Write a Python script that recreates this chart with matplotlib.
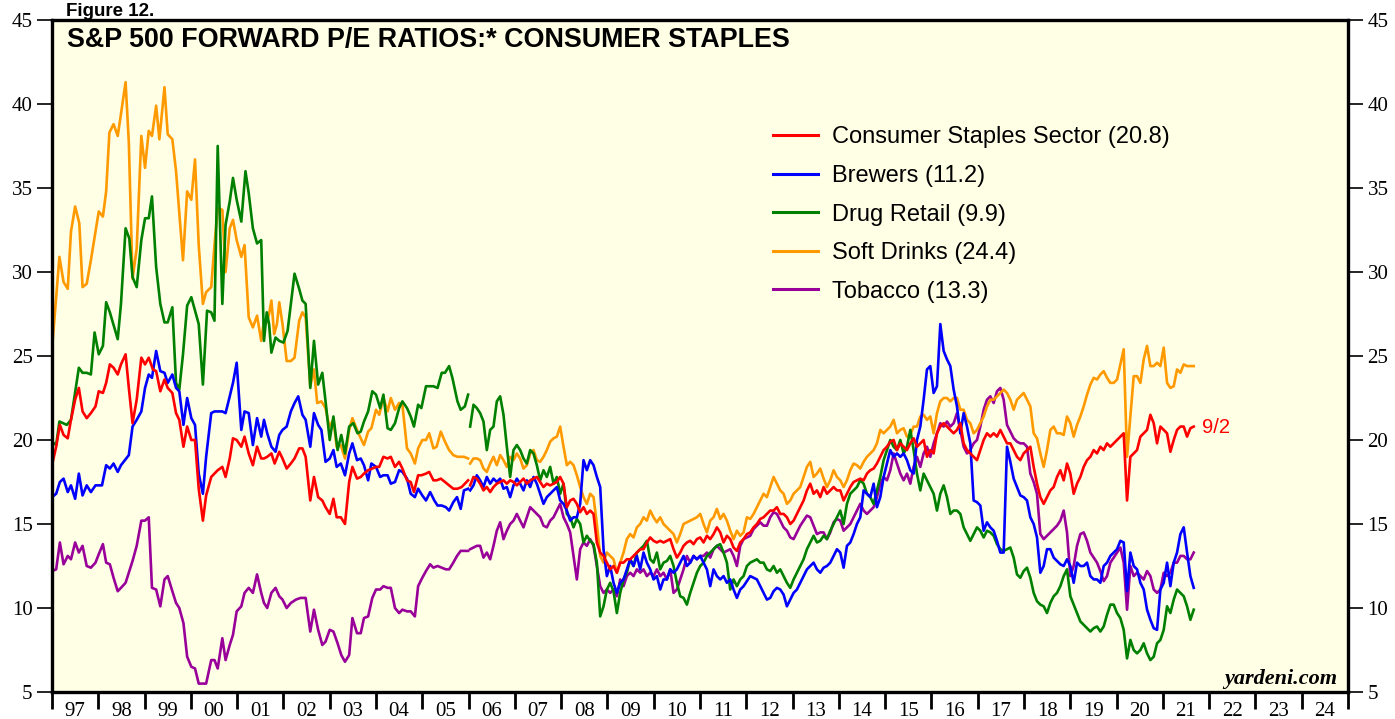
import matplotlib.pyplot as plt
import numpy as np

plt.rcParams['font.family'] = 'Liberation Serif'

# ---- monthly data 1997-2005 (decimal year, forward P/E) ----
staples_m = [
    (1997.00, 18.5), (1997.09, 19.6), (1997.17, 20.9), (1997.25, 20.3), (1997.34, 20.1),
    (1997.41, 21.2), (1997.50, 22.4), (1997.58, 23.1), (1997.66, 21.7), (1997.75, 21.3),
    (1997.84, 21.6), (1997.94, 22.0), (1998.01, 22.9), (1998.10, 22.8), (1998.17, 23.4),
    (1998.25, 24.5), (1998.33, 24.3), (1998.42, 23.9), (1998.49, 24.5), (1998.59, 25.1),
    (1998.66, 23.1), (1998.74, 21.0), (1998.83, 22.4), (1998.93, 24.9), (1999.01, 24.5),
    (1999.09, 24.9), (1999.18, 24.2), (1999.25, 24.1), (1999.34, 22.9), (1999.43, 23.6),
    (1999.50, 23.1), (1999.60, 22.8), (1999.68, 21.6), (1999.75, 21.2), (1999.84, 19.6),
    (1999.92, 20.8), (2000.01, 20.0), (2000.09, 20.0), (2000.17, 17.1), (2000.26, 15.2),
    (2000.33, 16.7), (2000.44, 17.8), (2000.51, 18.0), (2000.58, 18.2), (2000.68, 18.4),
    (2000.75, 17.8), (2000.84, 18.9), (2000.91, 20.1), (2000.99, 20.0), (2001.09, 19.6),
    (2001.16, 20.2), (2001.25, 19.2), (2001.34, 18.5), (2001.43, 19.6), (2001.52, 18.9),
    (2001.58, 18.9), (2001.65, 19.0), (2001.74, 19.2), (2001.81, 18.6), (2001.91, 19.3),
    (2001.98, 18.9), (2002.07, 18.3), (2002.16, 18.6), (2002.24, 18.9), (2002.34, 19.5),
    (2002.41, 19.5), (2002.48, 19.0), (2002.58, 16.4), (2002.66, 17.8), (2002.75, 16.6),
    (2002.84, 16.4), (2002.91, 16.0), (2003.00, 15.6), (2003.08, 16.5), (2003.15, 15.4),
    (2003.24, 15.4), (2003.33, 15.0), (2003.42, 17.5), (2003.49, 18.4), (2003.59, 17.7),
    (2003.67, 17.8), (2003.74, 18.0), (2003.83, 18.2), (2003.92, 18.3), (2004.00, 18.4),
    (2004.07, 18.4), (2004.16, 19.0), (2004.25, 18.9), (2004.32, 19.0), (2004.41, 18.4),
    (2004.50, 18.7), (2004.57, 18.3), (2004.67, 17.6), (2004.75, 17.5), (2004.82, 16.9),
    (2004.91, 17.9), (2004.98, 17.9), (2005.08, 18.0), (2005.15, 18.1), (2005.24, 17.6),
    (2005.31, 17.6), (2005.40, 17.7), (2005.49, 17.5), (2005.58, 17.3), (2005.67, 17.1),
    (2005.76, 17.1), (2005.85, 17.2), (2005.92, 17.4), (2005.99, 17.6),
]

brewers_m = [
    (1997.00, 16.6), (1997.09, 16.8), (1997.17, 17.5), (1997.25, 17.7), (1997.34, 16.9),
    (1997.41, 17.3), (1997.50, 16.5), (1997.58, 18.0), (1997.66, 16.7), (1997.75, 17.3),
    (1997.84, 16.9), (1997.94, 17.3), (1998.08, 17.3), (1998.17, 18.5), (1998.25, 18.3),
    (1998.33, 18.6), (1998.42, 18.1), (1998.49, 18.5), (1998.66, 19.1), (1998.74, 20.8),
    (1998.83, 21.2), (1998.93, 21.7), (1999.01, 23.1), (1999.09, 23.9), (1999.16, 23.7),
    (1999.25, 25.3), (1999.34, 24.1), (1999.43, 24.0), (1999.50, 23.4), (1999.60, 23.9),
    (1999.68, 23.1), (1999.75, 22.9), (1999.84, 20.9), (1999.92, 22.5), (2000.01, 21.3),
    (2000.09, 20.9), (2000.17, 18.0), (2000.26, 16.8), (2000.33, 19.0), (2000.44, 21.6),
    (2000.51, 21.7), (2000.58, 21.7), (2000.68, 21.7), (2000.75, 21.6), (2000.84, 22.6),
    (2000.91, 23.4), (2000.99, 24.6), (2001.09, 20.6), (2001.16, 21.7), (2001.25, 21.6),
    (2001.34, 19.7), (2001.43, 21.3), (2001.52, 20.2),
    (2001.58, 21.2), (2001.65, 20.4), (2001.74, 19.6), (2001.83, 19.3), (2001.91, 20.3),
    (2001.98, 20.6), (2002.07, 20.8), (2002.16, 21.7), (2002.24, 22.2), (2002.32, 22.6),
    (2002.41, 21.5), (2002.48, 21.2), (2002.58, 19.6), (2002.66, 21.6), (2002.75, 20.9),
    (2002.82, 20.6), (2002.91, 18.7), (2003.00, 18.9), (2003.08, 19.4), (2003.15, 18.4),
    (2003.24, 18.6), (2003.33, 17.9), (2003.42, 19.2), (2003.49, 19.8), (2003.59, 18.8),
    (2003.67, 18.9), (2003.74, 18.5), (2003.83, 17.6), (2003.90, 18.6), (2004.00, 18.4),
    (2004.09, 17.8), (2004.16, 17.9), (2004.25, 17.9), (2004.32, 17.4), (2004.41, 17.5),
    (2004.50, 18.2), (2004.57, 18.1), (2004.67, 17.7), (2004.75, 16.8), (2004.84, 16.6),
    (2004.91, 17.1), (2005.00, 16.7), (2005.08, 16.4), (2005.17, 16.9), (2005.26, 16.4),
    (2005.33, 16.1), (2005.42, 16.1), (2005.51, 16.0), (2005.58, 15.8), (2005.67, 16.3),
    (2005.75, 16.6), (2005.83, 15.9), (2005.90, 17.0), (2005.99, 17.1),
]

drug_m = [
    (1997.00, 19.9), (1997.09, 19.7), (1997.16, 21.1), (1997.32, 20.9), (1997.41, 21.2),
    (1997.58, 24.3), (1997.66, 24.0), (1997.75, 24.0), (1997.84, 23.9), (1997.92, 26.4),
    (1998.01, 25.1), (1998.10, 25.6), (1998.17, 28.2), (1998.25, 27.6), (1998.42, 26.0),
    (1998.49, 28.1), (1998.59, 32.6), (1998.67, 32.0), (1998.74, 29.7), (1998.83, 29.1),
    (1998.93, 31.9), (1999.01, 33.2), (1999.09, 33.2), (1999.16, 34.5), (1999.25, 30.3),
    (1999.34, 28.1), (1999.43, 27.0), (1999.50, 27.0), (1999.60, 27.9), (1999.68, 23.4),
    (1999.75, 23.0), (1999.83, 25.1), (1999.92, 28.0), (2000.01, 28.5), (2000.17, 26.9),
    (2000.26, 23.3), (2000.35, 27.7), (2000.44, 27.6), (2000.51, 27.1), (2000.58, 37.5),
    (2000.68, 28.1), (2000.75, 32.8), (2000.84, 34.2), (2000.91, 35.6), (2000.99, 34.3),
    (2001.09, 33.0), (2001.18, 36.0), (2001.25, 34.7), (2001.34, 32.6), (2001.43, 31.7),
    (2001.52, 31.9),
    (2001.58, 25.9), (2001.64, 27.6), (2001.69, 26.9), (2001.74, 25.2), (2001.83, 26.1),
    (2001.91, 25.9), (2002.00, 25.8), (2002.09, 26.5), (2002.24, 29.9), (2002.34, 29.0),
    (2002.41, 28.3), (2002.48, 28.1), (2002.58, 23.1), (2002.66, 25.9), (2002.75, 23.3),
    (2002.84, 24.0), (2002.91, 22.3), (2003.00, 20.0), (2003.08, 21.4), (2003.17, 19.4),
    (2003.25, 20.3), (2003.33, 19.2), (2003.42, 20.8), (2003.51, 21.0), (2003.60, 20.4),
    (2003.67, 20.5), (2003.74, 21.1), (2003.83, 21.7), (2003.92, 22.9), (2004.00, 22.7),
    (2004.09, 21.9), (2004.16, 22.7), (2004.25, 20.7), (2004.32, 20.6), (2004.41, 21.0),
    (2004.50, 21.9), (2004.57, 22.3), (2004.67, 21.9), (2004.75, 21.4), (2004.82, 20.8),
    (2004.91, 22.1), (2004.98, 21.9), (2005.08, 23.2), (2005.15, 23.2), (2005.24, 23.2),
    (2005.33, 23.1), (2005.42, 24.0), (2005.49, 24.0), (2005.58, 24.4), (2005.65, 23.7),
    (2005.76, 22.3), (2005.83, 21.8), (2005.92, 22.0), (2005.99, 22.7),
]

soft_m = [
    (1997.00, 25.4), (1997.16, 30.9), (1997.25, 29.4), (1997.34, 29.0), (1997.41, 32.4),
    (1997.50, 33.9), (1997.59, 32.9), (1997.66, 29.1), (1997.75, 29.3), (1997.84, 30.7),
    (1998.01, 33.6), (1998.10, 33.3), (1998.17, 34.8), (1998.24, 38.3), (1998.33, 38.8),
    (1998.42, 38.1), (1998.49, 39.4), (1998.59, 41.3), (1998.66, 37.7), (1998.74, 29.6),
    (1998.83, 31.4), (1998.93, 38.1), (1999.01, 36.2), (1999.09, 38.4), (1999.16, 38.1),
    (1999.25, 39.9), (1999.32, 37.9), (1999.43, 41.0), (1999.50, 38.2), (1999.60, 37.9),
    (1999.68, 36.0), (1999.83, 30.7), (1999.92, 34.8), (2000.01, 34.3), (2000.09, 36.7),
    (2000.17, 31.6), (2000.26, 28.1), (2000.33, 28.8), (2000.44, 29.1), (2000.51, 31.6),
    (2000.58, 33.8), (2000.68, 33.7), (2000.75, 30.0), (2000.84, 32.6), (2000.91, 33.1),
    (2000.99, 31.9), (2001.09, 30.9), (2001.16, 31.6), (2001.25, 27.3), (2001.34, 26.7),
    (2001.43, 27.4), (2001.52, 25.9),
    (2001.58, 27.1), (2001.64, 27.0), (2001.69, 27.5), (2001.74, 28.3), (2001.80, 26.3),
    (2001.86, 26.9), (2001.91, 28.2), (2001.98, 26.9), (2002.07, 24.7), (2002.16, 24.7),
    (2002.24, 24.9), (2002.34, 27.1), (2002.41, 27.6), (2002.48, 27.3), (2002.58, 23.2),
    (2002.66, 24.2), (2002.73, 22.2), (2002.82, 22.3), (2002.91, 21.9), (2002.99, 20.8),
    (2003.08, 21.2), (2003.15, 19.6), (2003.24, 19.7), (2003.33, 18.9), (2003.42, 20.6),
    (2003.49, 21.3), (2003.59, 20.6), (2003.67, 20.1), (2003.74, 19.7), (2003.83, 20.5),
    (2003.90, 20.7), (2004.00, 21.8), (2004.07, 21.5), (2004.16, 22.5), (2004.25, 21.7),
    (2004.32, 22.5), (2004.41, 21.8), (2004.50, 22.2), (2004.57, 22.1), (2004.67, 19.5),
    (2004.75, 19.2), (2004.84, 18.6), (2004.91, 19.5), (2005.00, 20.0), (2005.08, 20.0),
    (2005.15, 20.4), (2005.24, 19.5), (2005.31, 19.6), (2005.40, 20.5), (2005.49, 19.9),
    (2005.58, 19.4), (2005.67, 19.1), (2005.76, 19.0), (2005.90, 19.0), (2005.99, 18.9),
]

tobacco_m = [
    (1997.00, 12.2), (1997.09, 12.3), (1997.17, 13.9), (1997.25, 12.6), (1997.34, 13.1),
    (1997.41, 12.9), (1997.50, 13.9), (1997.58, 13.3), (1997.66, 13.7), (1997.75, 12.5),
    (1997.84, 12.4), (1997.94, 12.7), (1998.01, 13.2), (1998.10, 13.8), (1998.17, 12.7),
    (1998.25, 12.6), (1998.33, 11.8), (1998.42, 11.0), (1998.49, 11.2), (1998.59, 11.5),
    (1998.74, 12.8), (1998.83, 13.7), (1998.93, 15.2), (1999.01, 15.2), (1999.09, 15.4),
    (1999.16, 11.2), (1999.25, 11.1), (1999.34, 10.1), (1999.43, 11.7), (1999.50, 11.9),
    (1999.60, 11.0), (1999.68, 10.3), (1999.75, 10.0), (1999.84, 9.1), (1999.92, 7.1),
    (2000.01, 6.5), (2000.09, 6.4), (2000.17, 5.5), (2000.33, 5.5), (2000.44, 6.9),
    (2000.51, 6.9), (2000.58, 6.4), (2000.68, 8.2), (2000.75, 6.9), (2000.84, 7.8),
    (2000.91, 8.4), (2000.99, 9.8), (2001.09, 10.1), (2001.16, 10.9), (2001.25, 11.2),
    (2001.34, 10.9), (2001.43, 12.0), (2001.52, 10.9),
    (2001.58, 10.3), (2001.65, 10.0), (2001.74, 10.9), (2001.83, 11.2), (2001.91, 10.7),
    (2001.98, 10.5), (2002.07, 10.0), (2002.16, 10.3), (2002.27, 10.5), (2002.37, 10.6),
    (2002.48, 10.6), (2002.58, 8.6), (2002.66, 9.9), (2002.75, 8.7), (2002.84, 7.8),
    (2002.91, 8.0), (2003.00, 8.7), (2003.08, 8.6), (2003.17, 7.9), (2003.25, 7.2),
    (2003.33, 6.8), (2003.42, 7.2), (2003.49, 9.4), (2003.59, 8.5), (2003.67, 8.5),
    (2003.74, 9.4), (2003.83, 9.5), (2003.92, 10.6), (2004.00, 11.1), (2004.09, 11.1),
    (2004.16, 11.3), (2004.25, 11.2), (2004.32, 11.2), (2004.41, 10.0), (2004.50, 9.7),
    (2004.57, 9.9), (2004.67, 9.8), (2004.75, 9.8), (2004.84, 9.5), (2004.91, 11.3),
    (2005.00, 11.8), (2005.08, 12.2), (2005.17, 12.6), (2005.24, 12.4), (2005.33, 12.5),
    (2005.42, 12.4), (2005.51, 12.3), (2005.58, 12.3), (2005.67, 12.7), (2005.75, 13.1),
    (2005.83, 13.4), (2005.99, 13.4),
]

# ---- weekly data 2006 - 9/2/2021, sampled about every 26 days ----
late_dates = np.linspace(2006.034, 2021.667, 218)

staples_w = [
    17.3, 17.8, 17.7,
    17.4, 17.0, 17.2, 16.9, 17.2, 17.4, 17.5, 17.6, 17.4, 17.6, 17.5, 17.3, 17.5, 17.7,
    17.4, 17.6, 17.7, 17.8, 17.5, 17.2, 17.4, 17.3, 17.4, 17.5, 17.8, 17.4, 16.0, 16.4,
    16.5, 16.2, 15.7, 16.0, 15.6, 15.8, 15.6, 13.9, 13.3, 13.1, 12.7, 12.3, 12.5, 12.1,
    12.7, 12.7, 12.9, 12.9, 13.1, 13.3, 13.5, 13.5, 13.9, 14.2, 14.0, 13.9, 14.0, 13.9,
    14.0, 14.1, 13.5, 13.0, 13.3, 13.7, 13.9, 14.0, 13.8, 14.1, 14.2,
    13.9, 14.3, 14.1, 14.4, 14.8, 14.5, 13.9, 14.3, 14.1, 13.6, 13.4, 13.9, 14.1, 14.4,
    14.5, 14.8, 15.0, 15.3, 15.4, 15.6, 15.8, 15.8, 16.0, 15.6, 15.6, 15.4, 15.0, 15.2,
    15.6, 16.0, 16.4, 17.0, 17.4, 16.8, 17.0, 16.6, 17.2, 16.8, 17.0, 17.2, 17.0, 17.0,
    16.4, 16.8, 17.2, 17.5, 17.6, 17.7, 17.6, 18.0, 18.2, 18.3, 18.6, 19.0, 19.4, 19.6,
    19.9, 20.0, 19.4, 19.8, 19.6, 19.4, 19.8, 20.1,
    19.6, 19.8, 20.0, 19.0, 19.4, 19.2, 20.4, 20.8, 21.0, 20.8, 20.6, 20.4, 20.6, 21.0,
    19.8, 19.4, 19.2, 19.0, 18.8, 19.4, 20.0, 20.4, 20.2, 20.4, 20.2, 20.6, 20.2, 19.8,
    19.8, 19.4, 19.0, 18.8, 19.2, 19.4, 19.6, 18.4, 17.4, 16.6, 16.2, 16.6, 17.0, 17.2,
    17.8, 18.2, 17.6, 18.6, 18.0, 16.8, 17.4, 17.8, 18.4, 18.8, 19.0, 19.4, 19.2, 19.6,
    19.4, 19.8, 19.6, 19.8, 20.0, 20.2, 20.4,
    16.4, 19.0, 19.2, 19.4, 20.2, 20.4, 20.6, 21.5, 21.0, 19.8, 20.8, 20.6, 20.4, 19.3,
    20.0, 20.6, 20.8, 20.8, 20.2, 20.7, 20.8,
]

brewers_w = [
    17.0, 17.3, 17.9,
    17.6, 17.2, 17.8, 17.4, 17.7, 17.5, 17.7, 17.1, 17.2, 16.6, 17.3, 17.7, 17.4, 17.0,
    17.6, 17.2, 17.8, 17.4, 16.8, 16.2, 16.6, 16.8, 17.0, 17.2, 16.4, 16.2, 15.8, 15.2,
    15.4, 15.4, 16.2, 18.8, 18.2, 18.8, 18.5, 17.8, 17.2, 13.5, 11.9, 12.5, 11.5, 10.9,
    11.5, 11.7, 12.3, 12.9, 12.5, 13.1, 12.3, 13.3, 12.7, 12.3, 11.7, 11.9, 11.1, 11.7,
    11.7, 12.3, 12.1, 12.3, 12.7, 13.1, 12.5, 12.7, 13.1, 12.9, 13.1,
    12.7, 12.3, 11.3, 12.3, 11.9, 11.7, 11.9, 11.5, 11.7, 11.1, 10.6, 11.1, 11.3, 11.6,
    11.9, 11.8, 11.7, 11.3, 10.9, 10.5, 10.6, 11.0, 11.2, 11.1, 10.8, 10.1, 10.5, 10.9,
    11.1, 11.5, 11.9, 12.3, 12.5, 12.7, 12.3, 12.1, 12.4, 12.5, 12.7, 13.1, 13.5, 13.3,
    12.4, 13.7, 13.9, 14.4, 15.0, 15.4, 17.0, 16.8, 16.6, 17.4, 16.0, 16.6, 17.8, 18.6,
    19.4, 19.0, 19.2, 19.0, 19.2, 18.8, 18.2, 18.0,
    20.0, 20.8, 22.4, 24.2, 24.4, 22.8, 23.2, 26.9, 25.3, 24.8, 24.4, 23.0, 22.0, 20.4,
    21.6, 20.8, 19.8, 16.4, 16.3, 16.1, 14.6, 15.1, 14.8, 14.6, 14.0, 13.3, 13.3, 19.6,
    18.7, 17.7, 17.2, 16.7, 16.6, 16.4, 15.4, 15.0, 14.2, 12.1, 12.5, 13.5, 13.5, 13.0,
    12.8, 12.6, 12.5, 12.9, 12.5, 11.5, 12.7, 12.5, 12.5, 12.7, 11.9, 11.7, 11.7, 11.5,
    12.5, 12.7, 13.1, 13.3, 13.5, 14.0, 13.9,
    11.0, 13.3, 12.5, 12.3, 11.5, 11.1, 9.9, 9.3, 8.8, 8.7, 11.1, 11.5, 12.7, 11.3,
    12.7, 13.3, 14.4, 14.8, 13.3, 11.9, 11.2,
]

drug_w = [
    20.8, 22.1, 21.9,
    21.6, 21.1, 19.4, 20.6, 20.8, 22.3, 22.6, 21.5, 19.6, 17.8, 19.4, 19.7, 19.4, 18.9,
    18.6, 19.4, 19.2, 18.5, 17.6, 18.2, 17.8, 18.4, 17.4, 17.8, 16.8, 17.4, 15.6, 15.4,
    14.8, 15.3, 15.0, 13.9, 14.3, 14.0, 13.8, 12.7, 9.5, 10.1, 11.1, 11.5, 11.0, 9.7,
    10.9, 11.7, 12.1, 12.9, 12.5, 13.3, 13.5, 13.7, 14.0, 12.9, 12.7, 13.3, 12.3, 12.7,
    12.8, 13.1, 12.5, 11.5, 10.7, 10.6, 10.2, 10.9, 11.5, 12.1, 12.5,
    12.7, 13.1, 13.3, 13.5, 13.7, 13.8, 13.3, 12.7, 11.1, 11.7, 11.3, 11.7, 11.9, 12.5,
    12.7, 12.8, 12.9, 12.7, 12.7, 12.3, 12.2, 12.5, 12.1, 12.3, 11.9, 11.5, 11.2, 11.7,
    12.1, 12.5, 12.9, 13.5, 13.9, 14.3, 13.9, 14.0, 14.3, 14.1, 14.6, 15.0, 15.4, 15.8,
    15.0, 16.2, 16.8, 17.0, 17.2, 17.6, 17.4, 16.8, 16.6, 16.2, 17.0, 17.8, 18.8, 19.4,
    20.0, 19.6, 19.4, 20.0, 19.2, 19.6, 20.6, 19.4,
    18.0, 17.0, 18.0, 17.6, 17.2, 16.8, 15.8, 16.8, 17.3, 16.6, 15.6, 15.8, 15.8, 15.6,
    14.8, 14.4, 14.0, 14.4, 14.8, 14.6, 14.2, 14.6, 14.5, 14.3, 13.8, 13.5, 13.4, 13.5,
    13.6, 13.0, 12.0, 11.8, 12.2, 12.4, 11.8, 10.9, 10.4, 10.2, 10.1, 9.7, 10.3, 10.7,
    10.9, 11.3, 11.9, 12.3, 10.7, 10.2, 9.7, 9.2, 9.0, 8.8, 8.6, 8.8, 8.9, 8.6,
    8.9, 9.6, 10.2, 10.2, 9.7, 9.4, 8.7,
    7.0, 8.1, 7.5, 7.3, 7.5, 7.9, 7.3, 6.9, 7.1, 7.9, 8.1, 8.7, 10.1, 9.7,
    10.5, 11.1, 10.9, 10.7, 10.1, 9.3, 9.9,
]

soft_w = [
    18.6, 18.9, 18.9,
    18.8, 18.3, 18.1, 18.6, 19.0, 18.5, 19.1, 18.8, 18.4, 19.0, 18.8, 19.2, 18.9, 18.3,
    18.5, 19.2, 19.4, 18.8, 18.7, 19.0, 19.4, 19.9, 20.1, 20.2, 20.8, 19.6, 18.5, 18.7,
    18.5, 17.9, 17.2, 16.6, 16.2, 16.8, 16.6, 15.0, 13.1, 12.7, 13.3, 13.1, 12.9, 12.1,
    12.7, 13.3, 14.1, 14.4, 14.2, 14.8, 15.0, 15.4, 15.2, 15.8, 15.4, 15.1, 15.4, 15.0,
    14.8, 14.6, 14.4, 13.9, 14.4, 15.0, 15.1, 15.2, 15.3, 15.4, 15.6,
    15.0, 14.5, 15.2, 15.4, 15.9, 15.3, 15.6, 15.2, 14.6, 14.1, 14.6, 14.3, 14.5, 15.4,
    15.3, 15.6, 16.0, 16.4, 16.8, 16.6, 17.2, 17.8, 17.4, 17.0, 16.8, 16.2, 16.4, 16.8,
    17.0, 17.2, 17.8, 18.4, 18.7, 17.8, 18.0, 18.3, 17.7, 17.2, 17.6, 18.2, 17.8, 17.6,
    17.2, 17.6, 18.2, 18.6, 18.5, 18.3, 18.7, 19.0, 19.2, 19.4, 19.8, 20.6, 20.4, 20.6,
    20.8, 21.2, 20.4, 20.6, 20.7, 20.2, 20.3, 20.8,
    20.8, 21.4, 21.5, 21.2, 21.4, 20.4, 21.6, 22.3, 22.5, 22.5, 22.3, 22.5, 22.5, 21.8,
    21.8, 21.2, 21.0, 20.4, 20.6, 21.0, 21.4, 22.0, 22.4, 22.4, 22.6, 22.8, 23.0, 22.8,
    22.4, 21.8, 22.4, 22.6, 22.8, 22.4, 22.0, 20.4, 20.1, 19.2, 18.4, 19.4, 20.6, 20.8,
    20.4, 20.4, 20.3, 21.4, 21.0, 20.2, 20.9, 21.4, 22.0, 22.7, 23.3, 23.7, 23.6, 23.9,
    24.1, 23.7, 23.4, 23.4, 23.6, 24.5, 25.4,
    19.0, 21.4, 23.8, 23.8, 23.4, 24.8, 25.6, 24.4, 24.4, 24.6, 24.4, 25.5, 23.4, 23.1,
    23.2, 24.2, 24.0, 24.5, 24.4, 24.4, 24.4,
]

tobacco_w = [
    13.5, 13.6, 13.7,
    13.7, 13.0, 13.3, 12.9, 13.7, 14.6, 15.1, 14.1, 14.6, 15.0, 15.2, 15.6, 15.2, 14.8,
    15.4, 16.0, 15.8, 15.6, 15.4, 14.9, 14.8, 15.2, 15.4, 15.8, 16.2, 15.4, 15.0, 14.5,
    13.1, 11.7, 13.5, 13.9, 13.7, 14.1, 13.7, 12.5, 11.3, 10.9, 11.1, 10.9, 11.1, 10.7,
    11.7, 11.3, 11.9, 12.1, 11.9, 12.3, 12.1, 12.3, 11.9, 12.1, 11.9, 12.3, 11.9, 12.1,
    11.7, 12.3, 10.9, 11.1, 11.7, 12.3, 13.1, 12.7, 13.1, 12.9, 13.1,
    13.1, 13.3, 13.0, 13.5, 13.7, 13.5, 13.3, 13.4, 13.5, 13.1, 12.5, 13.7, 14.1, 14.2,
    14.3, 14.7, 14.9, 15.1, 14.9, 14.9, 15.4, 15.7, 15.6, 15.2, 14.8, 14.6, 14.2, 14.1,
    14.5, 14.9, 15.2, 15.5, 15.4, 14.9, 14.4, 14.5, 14.5, 14.1, 14.5, 15.1, 15.3, 15.2,
    14.6, 14.8, 15.0, 15.4, 15.8, 16.2, 15.8, 15.6, 15.8, 16.0, 16.6, 17.4, 17.8, 17.6,
    18.2, 19.2, 18.6, 18.0, 17.6, 18.0, 17.4, 18.4,
    19.0, 18.4, 19.2, 19.6, 19.0, 19.8, 20.4, 21.0, 20.8, 21.1, 20.8, 21.0, 21.6, 20.6,
    19.6, 19.2, 19.4, 19.8, 20.0, 20.8, 21.8, 22.4, 22.6, 22.2, 22.9, 23.1, 22.4, 20.9,
    20.5, 20.1, 19.9, 19.8, 19.8, 19.6, 18.0, 17.5, 16.8, 14.4, 14.1, 14.3, 14.5, 14.7,
    14.9, 15.2, 15.8, 14.5, 11.9, 12.5, 13.7, 14.4, 14.5, 14.0, 13.3, 13.0, 12.7, 12.2,
    11.6, 11.9, 12.7, 13.0, 13.3, 13.6, 12.7,
    9.9, 12.5, 11.9, 12.1, 11.9, 11.7, 12.2, 11.9, 11.1, 10.9, 11.1, 12.1, 11.9, 12.1,
    12.7, 12.7, 13.1, 13.1, 12.9, 12.9, 13.3,
]

series = [
    ('Consumer Staples Sector (20.8)', '#FF0000', staples_m, staples_w),
    ('Brewers (11.2)', '#0000FF', brewers_m, brewers_w),
    ('Drug Retail (9.9)', '#008000', drug_m, drug_w),
    ('Soft Drinks (24.4)', '#FF9900', soft_m, soft_w),
    ('Tobacco (13.3)', '#990099', tobacco_m, tobacco_w),
]

fig = plt.figure(figsize=(13.95, 7.19), dpi=100)
ax = fig.add_axes([52 / 1395, 27 / 719, 1296 / 1395, 672 / 719])
ax.set_facecolor('#FFFFE6')

for label, color, monthly, weekly in series[::-1]:
    mx, my = zip(*monthly)
    ax.plot(mx, my, color=color, lw=1.9, label=label)
    ax.plot(late_dates, weekly, color=color, lw=1.9)

ax.set_xlim(1997, 2025)
ax.set_ylim(5, 45)

years = np.arange(1997, 2026)
ax.set_xticks(years)
ax.set_xticklabels([])
ax.set_xticks(years[:-1] + 0.5, minor=True)
ax.set_xticklabels(['%02d' % (y % 100) for y in years[:-1]], minor=True)
ax.tick_params(axis='x', which='major', length=12, width=2, direction='out')
ax.tick_params(axis='x', which='minor', length=0, pad=7, labelsize=15)

ax.set_yticks(np.arange(5, 46, 5))
ax.tick_params(axis='y', which='major', length=11, width=1.2, direction='out',
               left=True, right=True, labelleft=True, labelright=True,
               labelsize=15, pad=3)

for sp in ax.spines.values():
    sp.set_linewidth(2.4)

ax.text(0.0116, 0.970, 'S&P 500 FORWARD P/E RATIOS:* CONSUMER STAPLES',
        transform=ax.transAxes, family='Liberation Sans', fontweight='bold',
        fontsize=19.35, va='center', ha='left')

fig.text(0.047, 0.978, 'Figure 12.', family='Liberation Sans', fontweight='bold',
         fontsize=13.5, va='baseline', ha='left')

handles, labels = ax.get_legend_handles_labels()
leg = ax.legend(handles[::-1], labels[::-1], loc='upper left',
                bbox_to_anchor=(0.5563, 0.8416), frameon=False, borderpad=0,
                borderaxespad=0, handlelength=1.9, handletextpad=0.6,
                labelspacing=0.7, prop={'family': 'Liberation Sans', 'size': 17})
for ln in leg.get_lines():
    ln.set_linewidth(2.2)

ax.annotate('9/2', xy=(late_dates[-1], staples_w[-1]), xytext=(6.3, -1),
            textcoords='offset points', color='#FF0000', fontsize=14.5,
            family='Liberation Sans', va='center', ha='left')

ax.text(0.992, 0.012, 'yardeni.com', transform=ax.transAxes, ha='right',
        va='baseline', fontsize=16, fontweight='bold', fontstyle='italic')

fig.savefig('out.png', dpi=100, facecolor='white')
